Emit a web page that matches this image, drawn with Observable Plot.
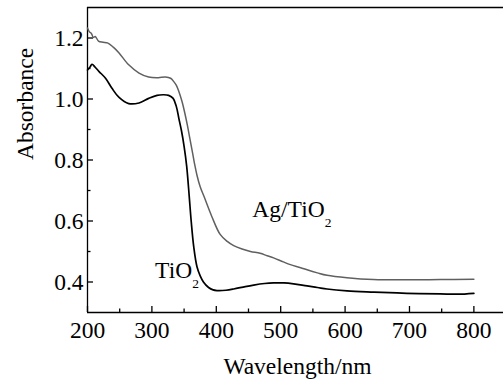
<!DOCTYPE html>
<html>
<head>
<meta charset="utf-8">
<script src="https://cdn.jsdelivr.net/npm/d3@7"></script>
<script src="https://cdn.jsdelivr.net/npm/@observablehq/plot@0.6"></script>
<style>
  html, body { margin: 0; padding: 0; background: #fff; }
  #chart svg { display: block; }
  #chart svg, #chart svg text, #chart svg tspan { font-family: "Liberation Serif", "Times New Roman", Times, serif !important; }
</style>
</head>
<body>
<div id="chart"></div>
<script>
// TiO2 spectrum (black)
const tio2Nm  = [200, 204, 207, 212, 218, 228, 238, 249, 264, 280, 295, 308, 318, 326, 333, 338, 342, 346, 350, 354, 358, 361, 365, 370, 375, 380, 388, 395, 401, 415, 427, 445, 458, 475, 489, 505, 520, 541, 557, 572, 603, 645, 696, 748, 775, 800];
const tio2Abs = [1.095, 1.105, 1.114, 1.104, 1.09, 1.068, 1.035, 1.005, 0.985, 0.987, 1.002, 1.012, 1.014, 1.012, 1.002, 0.975, 0.935, 0.895, 0.845, 0.78, 0.68, 0.60, 0.515, 0.450, 0.420, 0.400, 0.382, 0.374, 0.372, 0.373, 0.377, 0.385, 0.390, 0.395, 0.397, 0.397, 0.394, 0.387, 0.382, 0.377, 0.371, 0.367, 0.363, 0.361, 0.360, 0.363];

// Ag/TiO2 spectrum (grey)
const agNm  = [200, 203, 206, 209, 212, 217, 224, 231, 240, 249, 264, 280, 295, 310, 321, 329, 334, 338, 342, 347, 351, 355, 359, 363, 366, 370, 375, 381, 393, 406, 417, 427, 440, 453, 468, 479, 489, 504, 515, 531, 541, 557, 572, 603, 644, 696, 748, 800];
const agAbs = [1.233, 1.22, 1.215, 1.202, 1.205, 1.19, 1.186, 1.184, 1.17, 1.151, 1.112, 1.085, 1.072, 1.07, 1.072, 1.068, 1.057, 1.045, 1.024, 0.99, 0.955, 0.915, 0.87, 0.825, 0.79, 0.75, 0.712, 0.68, 0.615, 0.556, 0.533, 0.519, 0.508, 0.500, 0.494, 0.486, 0.479, 0.466, 0.457, 0.447, 0.440, 0.430, 0.422, 0.414, 0.408, 0.407, 0.408, 0.409];

// Tick values
const xMajor = [200, 300, 400, 500, 600, 700, 800];
const xMinor = [250, 350, 450, 550, 650, 750];
const yMajor = [0.4, 0.6, 0.8, 1.0, 1.2];
const yMinor = [0.5, 0.7, 0.9, 1.1];

// Labels
const xTitle = "Wavelength/nm";
const yTitle = "Absorbance";
const agLabel = "Ag/TiO";
const tio2Label = "TiO";
const subscript = "2";

const tio2 = tio2Nm.map((x, i) => ({x, y: tio2Abs[i]}));
const ag = agNm.map((x, i) => ({x, y: agAbs[i]}));

const font = "'Liberation Serif', 'Times New Roman', Times, serif";
const fs = 23.5;

const chart = Plot.plot({
  width: 503,
  height: 380,
  marginLeft: 87,
  marginRight: 0,
  marginTop: 7,
  marginBottom: 68,
  style: {fontFamily: font, fontSize: fs + "px", color: "#000", background: "#fff", overflow: "visible"},
  x: {domain: [200, 846]},
  y: {domain: [0.3, 1.3]},
  marks: [
    // frame lines
    Plot.ruleY([0.3], {stroke: "#000", strokeWidth: 1.3}),
    Plot.ruleY([1.3], {stroke: "#000", strokeWidth: 1.6}),
    Plot.ruleX([200], {stroke: "#000", strokeWidth: 1.3}),
    // x axis text and inward ticks
    Plot.axisX(xMajor, {tickSize: 0, tickPadding: 8.6, tickFormat: d => String(d), label: null, fontSize: fs}),
    Plot.axisX(xMajor, {tickSize: -6, fill: "none", label: null, strokeWidth: 1.3}),
    Plot.axisX(xMinor, {tickSize: -3.5, fill: "none", label: null, strokeWidth: 1.3}),
    // y axis text and inward ticks
    Plot.axisY(yMajor, {tickSize: 0, tickPadding: 4, tickFormat: d => d.toFixed(1), label: null, fontSize: fs}),
    Plot.axisY(yMajor, {tickSize: -6, fill: "none", label: null, strokeWidth: 1.3}),
    Plot.axisY(yMinor, {tickSize: -3.5, fill: "none", label: null, strokeWidth: 1.3}),
    // curves
    Plot.line(ag, {x: "x", y: "y", stroke: "#606060", strokeWidth: 1.5, curve: "catmull-rom"}),
    Plot.line(tio2, {x: "x", y: "y", stroke: "#000", strokeWidth: 1.7, curve: "catmull-rom"}),
    // annotations
    Plot.text([agLabel], {x: 456, y: 0.637, textAnchor: "start", lineAnchor: "middle", fontSize: fs, className: "sublabel"}),
    Plot.text([tio2Label], {x: 305, y: 0.439, textAnchor: "start", lineAnchor: "middle", fontSize: fs, className: "sublabel"}),
    // axis titles
    Plot.text([xTitle], {frameAnchor: "bottom", dy: 53.5, dx: 2, fontSize: fs, lineAnchor: "middle"}),
    Plot.text([yTitle], {frameAnchor: "left", dx: -62.5, rotate: -90, fontSize: fs, lineAnchor: "middle"})
  ]
});

// add subscripts
d3.select(chart).selectAll(".sublabel text").each(function() {
  d3.select(this).append("tspan").attr("font-size", 13.5).attr("dy", 10).text(subscript);
});

document.getElementById("chart").appendChild(chart);
</script>
</body>
</html>
